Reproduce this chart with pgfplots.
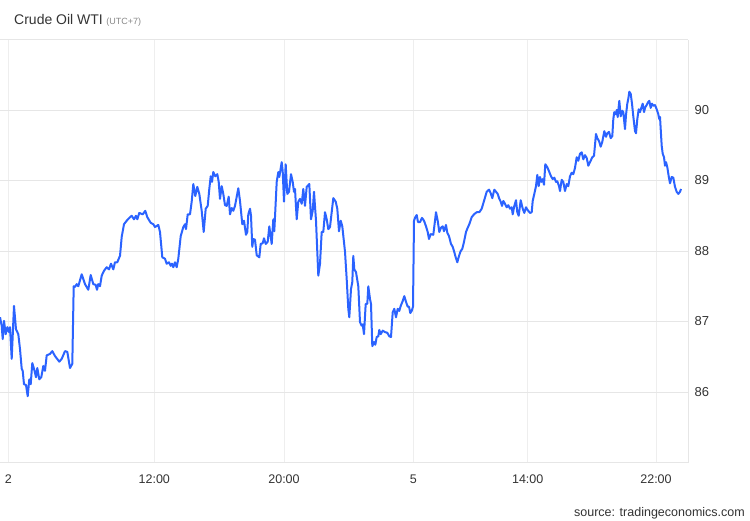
\documentclass[border=0pt]{standalone}
\usepackage{pgfplots}
\pgfplotsset{compat=1.18}
\usepackage{fontspec}
\setmainfont{Liberation Sans}
\definecolor{wti}{HTML}{2B63FF}
\definecolor{hgrid}{HTML}{E6E6E6}
\definecolor{vgrid}{HTML}{EEEEEE}
\definecolor{lbl}{HTML}{333333}
\definecolor{sub}{HTML}{888888}
\begin{document}
\begin{tikzpicture}
\path[use as bounding box] (0,0) rectangle (750pt,520pt);
\begin{axis}[
  at={(0pt,57.5pt)}, anchor=south west,
  scale only axis, width=688pt, height=423pt,
  xmin=0, xmax=688, ymin=85, ymax=91,
  axis x line*=bottom, axis y line*=right,
  axis line style={draw=hgrid, line width=1pt},
  xtick={8.3,154.3,284,413.3,527.7,656},
  xticklabels={2,12:00,20:00,5,14:00,22:00},
  ytick={86,87,88,89,90},
  extra y ticks={91}, extra y tick labels={},
  extra y tick style={grid=major, major tick length=0pt},
  major tick length=0pt,
  xmajorgrids, ymajorgrids,
  x grid style={draw=vgrid, line width=1pt},
  y grid style={draw=hgrid, line width=1pt},
  tick label style={font=\fontsize{12.5}{14}\selectfont, text=lbl},
  /pgf/number format/assume math mode=true,
  yticklabel style={anchor=west, xshift=3pt, font=\fontsize{13}{15}\selectfont},
  xticklabel style={yshift=-9pt},
]
\addplot[wti, line width=2pt, line join=round, mark=none] coordinates {
(0,87.06) (1.7,86.94) (2.7,86.75) (4,87.01) (5.7,86.82) (7.3,86.92) (9,86.85) (10,86.92)
(11.7,86.47) (14,87.22) (16,86.89) (18.3,86.82) (20,86.61) (21.7,86.33) (22.7,86.30)
(24,86.11) (26,86.10) (27.7,85.94) (29.3,86.18) (30.7,86.11) (32.3,86.41) (34,86.33)
(36,86.21) (37.3,86.34) (39.3,86.18) (41.3,86.21) (43.3,86.37) (45,86.30) (46.7,86.52)
(50,86.54) (52.3,86.58) (55,86.51) (59.3,86.43) (61.7,86.47) (65,86.58) (67.3,86.57)
(70,86.34) (72.3,86.40) (73.7,87.50) (75,87.49) (76.7,87.53) (78.3,87.50) (81.7,87.67)
(85,87.53) (88.3,87.45) (90.7,87.66) (93.3,87.53) (95.7,87.52) (97,87.45) (98.3,87.53)
(100,87.50) (101.7,87.65) (104,87.72) (106.7,87.77) (109,87.74) (111,87.82) (113.3,87.74)
(115,87.84) (117.3,87.84) (119.3,87.91) (120,87.93) (121.7,88.20) (124,88.38) (126.7,88.43)
(129.3,88.47) (131.7,88.50) (134,88.45) (136,88.50) (137.3,88.45) (139.3,88.54) (142.7,88.52)
(145.3,88.57) (147.3,88.48) (150.7,88.40) (153.3,88.38) (155,88.34) (158.3,88.37) (160,88.27)
(162.3,87.91) (165,87.89) (166.7,87.82) (169,87.84) (170.7,87.79) (172,87.82) (173.3,87.77)
(175,87.84) (176.7,87.77) (178.3,87.89) (180.7,88.21) (183.3,88.34) (185,88.38) (186,88.31)
(187.7,88.52) (190,88.52) (191.7,88.70) (193.3,88.95) (195.3,88.78) (197.3,88.91) (199.3,88.81)
(201.7,88.57) (203.7,88.27) (205.7,88.60) (207.7,88.64) (209.3,88.88) (210.7,89.06) (212,88.98)
(213.3,89.12) (215.3,89.06) (217.3,89.09) (218.7,88.98) (220,88.74) (221.7,88.92) (223.3,88.81)
(225,88.65) (226.7,88.64) (228.7,88.77) (230,88.52) (231.7,88.61) (233.3,88.57) (235,88.64)
(238.3,88.89) (240,88.71) (242.3,88.38) (244,88.43) (246,88.23) (247.3,88.27) (248.3,88.52)
(250,88.60) (251,88.50) (252.3,88.06) (253.3,88.17) (255,88.16) (256.7,87.94) (259.3,87.91)
(260.7,88.10) (262.7,88.11) (264,88.18) (265.7,88.10) (267.7,88.13) (269.3,88.35) (271.7,88.10)
(273.3,88.45) (274.3,88.28) (276.7,88.98) (278.3,89.12) (279.3,89.05) (281.7,89.26) (282.7,89.13)
(284,88.70) (285.7,89.23) (287.3,88.81) (289,88.84) (291,89.09) (292.7,88.98) (294,88.84)
(295,88.88) (296.7,88.45) (298.3,88.70) (300,88.74) (301.7,88.67) (303.3,88.88) (305,88.64)
(306.7,88.91) (309.3,88.95) (311,88.45) (312.7,88.57) (314,88.84) (316,88.43) (318.3,87.65)
(320,87.82) (321.7,88.27) (323.3,88.27) (325,88.55) (326.7,88.45) (328.3,88.31) (330,88.34)
(333.3,88.75) (335.7,88.70) (337.3,88.60) (339,88.28) (340.7,88.43) (342.3,88.35) (345,87.99)
(346.7,87.60) (348.3,87.18) (349.3,87.06) (351,87.46) (352.3,87.56) (353.3,87.93) (354.3,87.74)
(356,87.70) (358.3,87.50) (360,86.99) (361.7,86.94) (362.7,86.96) (364,86.82) (365.7,87.25)
(367.3,87.25) (368.3,87.50) (370,87.32) (371,87.25) (372.3,86.65) (374,86.71) (375.3,86.67)
(376.7,86.78) (378.3,86.79) (379.3,86.88) (380.7,86.82) (382.7,86.87) (385,86.85) (387.3,86.84)
(389.3,86.79) (391,86.78) (392.7,87.13) (394.3,87.18) (396,87.06) (397.7,87.18) (399.3,87.15)
(400.7,87.22) (402.7,87.29) (404.3,87.36) (406,87.28) (407.7,87.21) (409,87.21) (410.3,87.12)
(411.7,87.15) (413,87.21) (414,88.43) (415.3,88.48) (416.7,88.51) (418,88.41) (420,88.41)
(422,88.47) (424,88.43) (426,88.35) (427.7,88.27) (429,88.17) (430.7,88.24) (433.3,88.23)
(435,88.43) (436,88.55) (437.7,88.43) (439.3,88.27) (441,88.33) (442.7,88.35) (444,88.28)
(446,88.37) (447.3,88.26) (449,88.21) (451,88.10) (452.7,88.06) (454,88.00) (455.7,87.91)
(457.3,87.84) (459,87.93) (460.7,88.00) (462.3,88.03) (464,88.13) (466,88.27) (467.7,88.33)
(469.3,88.38) (471.7,88.48) (474,88.52) (476.7,88.55) (479.3,88.55) (481.7,88.60) (484,88.71)
(486.7,88.84) (489,88.87) (490.7,88.82) (492.3,88.75) (494.3,88.87) (496,88.84) (497.7,88.81)
(499.3,88.74) (500.7,88.70) (502,88.64) (503.3,88.71) (505,88.67) (506.7,88.62) (508.3,88.65)
(510,88.60) (511.7,88.62) (512.7,88.52) (514.3,88.64) (516,88.72) (517.3,88.55) (518.7,88.50)
(520.7,88.72) (522.7,88.60) (524.3,88.54) (526,88.62) (527.7,88.58) (530,88.54) (531.7,88.55)
(532.7,88.71) (534.3,88.81) (536,88.92) (537.3,89.08) (538.7,88.92) (540,89.05) (541.3,88.98)
(542.7,89.02) (544,88.94) (545.3,89.23) (547.3,89.19) (549.3,89.12) (551,89.06) (552.7,89.02)
(554.3,89.04) (556,88.98) (557.3,88.99) (559,88.92) (560,88.85) (561.7,89.01) (563.3,88.98)
(565,88.85) (566.7,88.95) (568.3,88.92) (570,89.06) (571.7,89.11) (573.3,89.09) (575,89.18)
(576.7,89.33) (578.3,89.28) (580,89.38) (581.7,89.40) (583.3,89.30) (585,89.36) (586.7,89.32)
(588.3,89.21) (590,89.26) (592.3,89.33) (594,89.35) (596,89.66) (597.3,89.60) (599,89.56)
(600.7,89.48) (602.3,89.55) (604.3,89.70) (606,89.62) (607.3,89.67) (609,89.69) (610.7,89.60)
(612.3,89.63) (613.3,89.87) (614.3,89.97) (615.7,89.94) (616.7,90.00) (617.7,89.90) (619.3,90.13)
(620.7,89.91) (622.3,89.99) (623.3,89.97) (625,89.73) (626,89.93) (627.3,90.09) (628.3,90.16)
(629.3,90.26) (630.7,90.23) (632,90.09) (633.3,89.91) (635,89.70) (636,89.67) (637.3,89.87)
(638.7,90.01) (640,89.97) (641.3,90.03) (642.7,90.09) (644,89.97) (645.3,90.04) (646.7,90.07)
(648,90.11) (649.3,90.13) (650.7,90.03) (652,90.09) (653.3,90.06) (655,90.07) (656.7,90.01)
(658.3,89.94) (659.3,89.87) (660,89.90) (660.7,89.73) (661.7,89.49) (662.7,89.38) (664,89.33)
(665,89.21) (666,89.26) (667.3,89.19) (668.7,89.06) (670,88.96) (671.7,89.05) (673.3,89.04)
(675,88.91) (676.7,88.84) (678.3,88.81) (680,88.84) (681,88.88)
};
\end{axis}
\node[anchor=base west, font=\fontsize{14}{16}\selectfont, text=lbl, inner sep=0pt] (t) at (14pt,495pt) {Crude Oil WTI};
\node[anchor=base west, font=\fontsize{9}{10}\selectfont, text=sub, inner sep=0pt] at ([xshift=3pt]t.base east) {(UTC+7)};
\node[anchor=base east, font=\fontsize{12.5}{14}\selectfont, text=lbl, inner sep=0pt] at (745pt,4pt) {source: tradingeconomics.com};
\end{tikzpicture}
\end{document}
